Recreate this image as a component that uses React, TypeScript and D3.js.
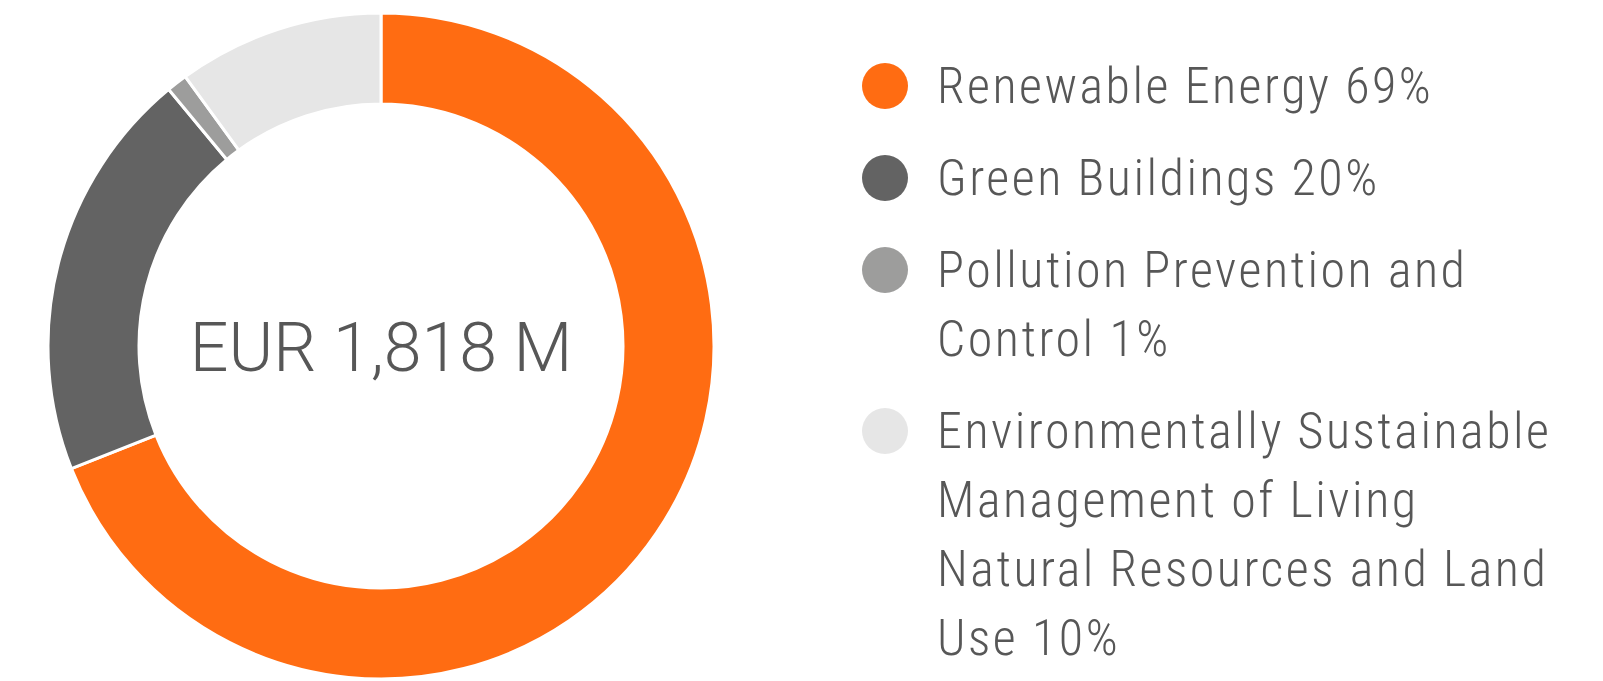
import * as d3 from 'd3';

const categories = [
  'Renewable Energy',
  'Green Buildings',
  'Pollution Prevention and Control',
  'Environmentally Sustainable Management of Living Natural Resources and Land Use',
];
const shares = [69, 20, 1, 10];
const colors = ['#ff6c12', '#636363', '#9d9d9c', '#e6e6e6'];
// legend text as it wraps in the original
const legendLines = [
  ['Renewable Energy 69%'],
  ['Green Buildings 20%'],
  ['Pollution Prevention and', 'Control 1%'],
  ['Environmentally Sustainable', 'Management of Living', 'Natural Resources and Land', 'Use 10%'],
];
const totalLabel = 'EUR 1,818 M';

const W = 1603;
const H = 681;
const cx = 381;
const cy = 346;
const outerR = 333;
const innerR = 242;
const textColor = '#575757';

export default function App() {
  const slices = d3
    .pie<number>()
    .sort(null)
    .value(d => d)(shares);
  const arc = d3.arc<d3.PieArcDatum<number>>().innerRadius(innerR).outerRadius(outerR);

  // legend layout
  const lineH = 69;
  const itemGap = 92;
  let y = 103;
  const legend = legendLines.map((lines, i) => {
    const item = { lines, y0: y, color: colors[i], name: categories[i] };
    y += (lines.length - 1) * lineH + itemGap;
    return item;
  });

  return (
    <svg
      width={W}
      height={H}
      style={{ position: 'absolute', left: 0, top: 0, background: '#fff' }}
    >
      <g transform={`translate(${cx},${cy})`}>
        {slices.map((s, i) => (
          <path key={i} d={arc(s) ?? ''} fill={colors[i]} stroke="#fff" strokeWidth={3}>
            <title>{categories[i]}</title>
          </path>
        ))}
        <text
          textAnchor="middle"
          y={25}
          fontFamily="Roboto, 'Open Sans', sans-serif"
          fontWeight={300}
          fontSize={68}
          fill={textColor}
        >
          {totalLabel}
        </text>
      </g>
      <g>
        {legend.map((item, i) => (
          <g key={i}>
            <circle cx={885} cy={item.y0 - 17} r={23} fill={item.color} />
            <text
              fontFamily="'Roboto Condensed', 'Liberation Sans Narrow', sans-serif"
              fontWeight={300}
              fontSize={50}
              letterSpacing={2.5}
              fill={textColor}
            >
              {item.lines.map((l, j) => (
                <tspan key={j} x={937} y={item.y0 + j * lineH}>
                  {l}
                </tspan>
              ))}
            </text>
          </g>
        ))}
      </g>
    </svg>
  );
}
